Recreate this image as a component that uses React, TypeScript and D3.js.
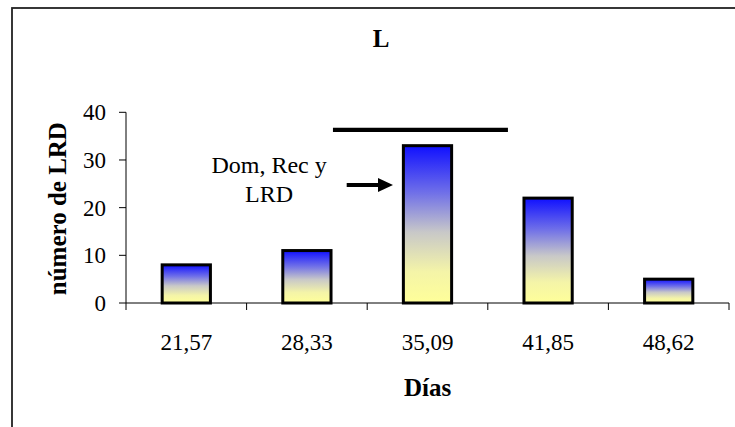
import React from "react";
import * as d3 from "d3";

const categories = ["21,57", "28,33", "35,09", "41,85", "48,62"];
const values = [8, 11, 33, 22, 5];
const yTicks = [0, 10, 20, 30, 40];
const title = "L";
const xTitle = "Días";
const yTitle = "número de LRD";
const noteLines = ["Dom, Rec y", "LRD"];
// annotation positions in data units (category index units, value units)
const bracket = { x0: 1.716, x1: 3.167, y: 36.3 };
const arrow = { x0: 1.83, x1: 2.214, y: 24.75 };
const note = { x: 1.186, y0: 27.2, y1: 21.25 };

const W = 735;
const H = 427;
const left = 126;
const right = 729;
const top = 112.3;
const bottom = 303;
const serif = "Liberation Serif, Tinos, Times New Roman, DejaVu Serif, serif";
const reg = { fontFamily: serif };
const bold = { fontFamily: serif, fontWeight: 700 as const };

export default function App() {
  const x = d3.scaleBand<string>().domain(categories).range([left, right]).paddingInner(0.6).paddingOuter(0.3);
  const xl = d3.scaleLinear().domain([0, categories.length]).range([left, right]);
  const y = d3.scaleLinear().domain([0, 40]).range([bottom, top]);
  const bw = x.bandwidth();
  const tickW = (right - left) / categories.length;
  const ay = y(arrow.y);
  const ax1 = xl(arrow.x1);

  return (
    <svg width={W} height={H} style={{ position: "absolute", left: 0, top: 0, background: "#fff" }}>
      <defs>
        <linearGradient id="barGrad" x1="0" y1="0" x2="0" y2="1">
          <stop offset="0" stopColor="#1010ff" />
          <stop offset="0.3" stopColor="#7070e8" />
          <stop offset="0.55" stopColor="#c8c8c8" />
          <stop offset="0.8" stopColor="#f4f4a8" />
          <stop offset="1" stopColor="#ffff99" />
        </linearGradient>
      </defs>
      <rect x={12} y={8} width={W} height={H} fill="none" stroke="#222" strokeWidth={1.8} />
      <text x={381} y={47} textAnchor="middle" style={bold} fontSize={25}>
        {title}
      </text>
      {/* y axis */}
      <line x1={left} x2={left} y1={top} y2={bottom} stroke="#000" strokeWidth={1} />
      {yTicks.map((t) => (
        <g key={t}>
          <line x1={left - 7} x2={left} y1={y(t)} y2={y(t)} stroke="#000" strokeWidth={1} />
          <text x={106} y={y(t)} dy="0.35em" textAnchor="end" style={reg} fontSize={23}>
            {t}
          </text>
        </g>
      ))}
      <text
        transform={`translate(66,${(top + bottom) / 2 + 1}) rotate(-90)`}
        textAnchor="middle"
        style={bold}
        fontSize={25}
      >
        {yTitle}
      </text>
      {/* x axis */}
      <line x1={left} x2={right} y1={bottom} y2={bottom} stroke="#000" strokeWidth={1} />
      {d3.range(categories.length + 1).map((i) => (
        <line key={i} x1={left + i * tickW} x2={left + i * tickW} y1={bottom} y2={bottom + 7} stroke="#000" strokeWidth={1} />
      ))}
      {categories.map((c) => (
        <text key={c} x={(x(c) as number) + bw / 2} y={350} textAnchor="middle" style={reg} fontSize={23}>
          {c}
        </text>
      ))}
      <text x={(left + right) / 2} y={396} textAnchor="middle" style={bold} fontSize={25}>
        {xTitle}
      </text>
      {/* bars */}
      {categories.map((c, i) => (
        <rect
          key={c}
          x={x(c)}
          y={y(values[i])}
          width={bw}
          height={bottom - y(values[i])}
          fill="url(#barGrad)"
          stroke="#000"
          strokeWidth={3}
        />
      ))}
      {/* annotations */}
      <line x1={xl(bracket.x0)} x2={xl(bracket.x1)} y1={y(bracket.y)} y2={y(bracket.y)} stroke="#000" strokeWidth={4.3} />
      <line x1={xl(arrow.x0)} x2={ax1 - 12} y1={ay} y2={ay} stroke="#000" strokeWidth={4} />
      <path d={`M${ax1 - 15},${ay - 7} L${ax1},${ay} L${ax1 - 15},${ay + 7} Z`} fill="#000" />
      <text x={xl(note.x)} y={y(note.y0)} textAnchor="middle" style={reg} fontSize={24}>
        {noteLines[0]}
      </text>
      <text x={xl(note.x)} y={y(note.y1)} textAnchor="middle" style={reg} fontSize={24}>
        {noteLines[1]}
      </text>
    </svg>
  );
}
